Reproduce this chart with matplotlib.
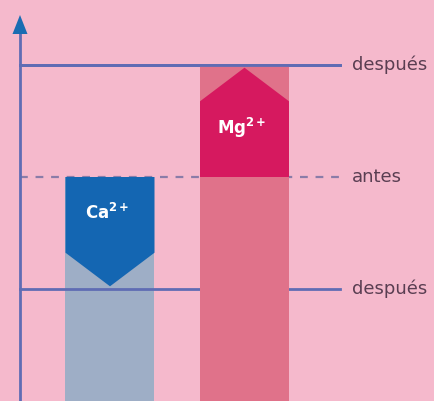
import matplotlib
matplotlib.use("Agg")
import matplotlib.pyplot as plt
from matplotlib.patches import Polygon, Rectangle

# Ion levels (arbitrary units): before and after
ions = ["Ca", "Mg"]
ion_labels = [r"$\mathbf{Ca}^{\mathbf{2+}}$", r"$\mathbf{Mg}^{\mathbf{2+}}$"]
before = [100, 100]
after = [50, 150]
level_labels = ["después", "antes", "después"]
level_values = [150, 100, 50]

# Styling
bg = "#f5b9cc"
bar_light = ["#9eaec6", "#e0728a"]
arrow_dark = ["#1466b2", "#d6195f"]
line_col = "#5f6cb4"
dash_col = "#8a7ca8"
text_col = "#5a3e52"

W, H = 435, 401
fig = plt.figure(figsize=(W / 100, H / 100), dpi=100)
fig.patch.set_facecolor(bg)
ax = fig.add_axes([0, 0, 1, 1])
ax.set_facecolor(bg)
ax.set_xlim(0, W)
ymax = H / 2.24
ax.set_ylim(0, ymax)
ax.axis("off")

centers = [110, 244.5]
bar_z = [2, 4]          # Ca column sits under the lines, Mg column above them
half_w = 44.5
head = 15.0  # depth of the arrow point, in data units
gap = 1.2    # small space between arrow point and its reference line

# Horizontal reference lines
x_axis, x_end = 20, 340
ax.plot([x_axis, x_end], [level_values[0]] * 2, color=line_col, lw=2, zorder=3)
ax.plot([x_axis, x_end], [level_values[2]] * 2, color=line_col, lw=2, zorder=3)
ax.plot([x_axis, x_end], [level_values[1]] * 2, color=dash_col, lw=1.6,
        ls=(0, (3.5, 3.5)), zorder=1)

for i, ion in enumerate(ions):
    c = centers[i]
    hi = max(before[i], after[i])
    # pale column up to the higher of the two levels
    ax.add_patch(Rectangle((c - half_w, 0), 2 * half_w, hi,
                           facecolor=bar_light[i], edgecolor="none", zorder=bar_z[i]))
    b, a = before[i], after[i]
    sgn = 1 if a > b else -1
    tip = a - sgn * gap
    shoulder = tip - sgn * head
    poly = [(c - half_w, b), (c + half_w, b), (c + half_w, shoulder),
            (c, tip), (c - half_w, shoulder)]
    ax.add_patch(Polygon(poly, closed=True, facecolor=arrow_dark[i],
                         edgecolor="none", zorder=bar_z[i] + 0.5))
    ty = b - 16 if sgn < 0 else b + 22
    ax.text(c - 3, ty, ion_labels[i],
            color="white", fontsize=12, ha="center", va="center", zorder=6)

# Top line drawn over the Mg column edge
ax.plot([x_axis, x_end], [level_values[0]] * 2, color=line_col, lw=2, zorder=5)

# Vertical axis with arrow head
ax.plot([x_axis, x_axis], [0, ymax - 30 / 2.24], color=line_col, lw=2, zorder=5)
ax.add_patch(Polygon([(x_axis - 7.5, ymax - 34 / 2.24), (x_axis + 7.5, ymax - 34 / 2.24),
                      (x_axis, ymax - 15 / 2.24)], closed=True,
                     facecolor="#1a6cb2", edgecolor="none", zorder=6))

# Level labels on the right
for lab, v in zip(level_labels, level_values):
    ax.text(352, v, lab, color=text_col, fontsize=13, ha="left",
            va="center", family="DejaVu Sans", zorder=6)

fig.savefig("out.png", dpi=100, facecolor=bg)
